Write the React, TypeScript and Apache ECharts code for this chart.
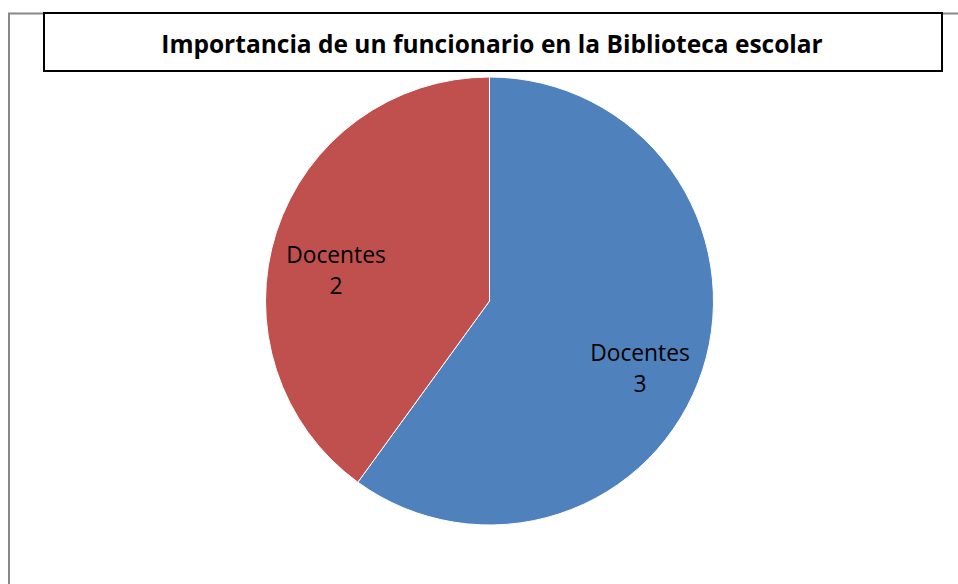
import React, { useEffect, useRef } from "react";
import * as echarts from "echarts";

const titleText = "Importancia de un funcionario en la Biblioteca escolar";
const categories = ["Docentes", "Docentes"];
const values = [3, 2];
const colors = ["#4F81BD", "#C0504D"];
const labelCenters = [
  [640, 368],
  [336, 270],
];

export default function App() {
  const ref = useRef<HTMLDivElement>(null);
  useEffect(() => {
    if (!ref.current) return;
    const chart = echarts.init(ref.current, null, { renderer: "svg" });
    chart.setOption({
      animation: false,
      backgroundColor: "#ffffff",
      graphic: [
        {
          type: "rect",
          shape: { x: 9, y: 13.5, width: 1200, height: 1000 },
          style: { fill: "none", stroke: "#888888", lineWidth: 2 },
          z: 0,
        },
        {
          type: "rect",
          shape: { x: 44, y: 13, width: 898, height: 58 },
          style: { fill: "#ffffff", stroke: "#000000", lineWidth: 2 },
          z: 1,
        },
        {
          type: "text",
          x: 492,
          y: 43,
          style: {
            text: titleText,
            fill: "#000000",
            font: "bold 24.5px 'Open Sans', sans-serif",
            align: "center",
            verticalAlign: "middle",
          },
          z: 2,
        },
      ],
      series: [
        {
          type: "pie",
          center: [489.5, 301],
          radius: [0, 224],
          startAngle: 90,
          clockwise: true,
          avoidLabelOverlap: false,
          itemStyle: { borderColor: "#ffffff", borderWidth: 1 },
          label: {
            show: true,
            position: "inside",
            formatter: "{b}\n{c}",
            color: "#000000",
            fontFamily: "'Open Sans', sans-serif",
            fontSize: 22.8,
            lineHeight: 31,
            align: "center",
          },
          labelLine: { show: false },
          emphasis: { disabled: true },
          labelLayout: (p: any) => ({
            x: labelCenters[p.dataIndex][0],
            y: labelCenters[p.dataIndex][1],
            align: "center",
            verticalAlign: "middle",
          }),
          data: values.map((v, i) => ({
            name: categories[i],
            value: v,
            itemStyle: { color: colors[i] },
          })),
        },
      ],
    });
    return () => chart.dispose();
  }, []);
  return (
    <div
      ref={ref}
      style={{ position: "fixed", left: 0, top: 0, width: 958, height: 584 }}
    />
  );
}
